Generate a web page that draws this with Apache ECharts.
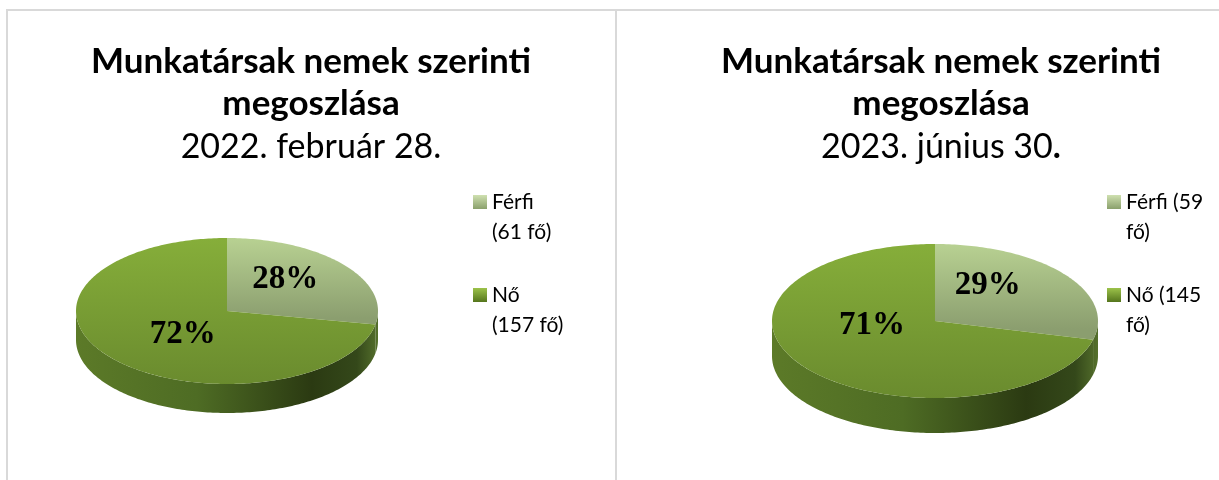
<!DOCTYPE html>
<html>
<head>
<meta charset="utf-8">
<script src="https://cdn.jsdelivr.net/npm/echarts@6/dist/echarts.min.js"></script>
<style>
  html, body { margin: 0; padding: 0; background: #fff; }
  #chart { width: 1219px; height: 480px; }
</style>
</head>
<body>
<div id="chart"></div>
<script>
// data
const categories = ['Férfi', 'Nő']
const titleText = 'Munkatársak nemek szerinti\nmegoszlása'
const dates = ['2022. február 28.', '2023. június 30{b|.}']
const values2022 = [61, 157]
const values2023 = [59, 145]

// legend labels (line breaks differ between the two charts, like the original)
const legend2022 = categories.map((c, i) => c + '\n(' + values2022[i] + ' fő)')
const legend2023 = categories.map((c, i) => c + ' (' + values2023[i] + '\nfő)')

// geometry of the two tilted pies, label spots given as [radius factor, y nudge]
const pies = [
  { values: values2022, names: legend2022, cx: 227, cy: 311, rx: 151, ry: 73, depth: 29, titleX: 311,
    labelPos: [[0.5, -8], [0.38, 6]] },
  { values: values2023, names: legend2023, cx: 935, cy: 321, rx: 163, ry: 77, depth: 35, titleX: 941,
    labelPos: [[0.41, -16], [0.49, -19]] }
]

const topColors = [
  ['#b8d192', '#8b9e6f'], // Férfi
  ['#86ae3a', '#6a8b2e']  // Nő
]
const iconColors = [
  ['#cfe0b0', '#8aa06c'],
  ['#9cc24a', '#55751d']
]

function grad(x, y, x2, y2, c0, c1, global) {
  return new echarts.graphic.LinearGradient(x, y, x2, y2, [
    { offset: 0, color: c0 },
    { offset: 1, color: c1 }
  ], global)
}

function arcPoints(p, a0, a1, dy) {
  const pts = []
  const n = Math.max(2, Math.ceil((a1 - a0) / (Math.PI / 180)))
  for (let k = 0; k <= n; k++) {
    const t = a0 + (a1 - a0) * k / n
    pts.push([p.cx + p.rx * Math.sin(t), p.cy - p.ry * Math.cos(t) + dy])
  }
  return pts
}

function makeRender(p, idx) {
  return function (params, api) {
    const total = p.values.reduce((s, v) => s + v, 0)
    let before = 0
    for (let i = 0; i < idx; i++) before += p.values[i]
    const v = api.value(0)
    const a0 = before / total * Math.PI * 2
    const a1 = (before + v) / total * Math.PI * 2
    const children = []

    // front wall, only the part facing the viewer
    const s = Math.max(a0, Math.PI / 2)
    const e = Math.min(a1, Math.PI * 1.5)
    if (e > s) {
      const upper = arcPoints(p, s, e, 0)
      const lower = arcPoints(p, s, e, p.depth).reverse()
      children.push({
        type: 'polygon',
        shape: { points: upper.concat(lower) },
        style: {
          fill: new echarts.graphic.LinearGradient(p.cx - p.rx, 0, p.cx + p.rx, 0, [
            { offset: 0, color: '#5c7a28' },
            { offset: 0.4, color: '#4e6c24' },
            { offset: 0.78, color: '#2b3a12' },
            { offset: 0.93, color: '#34481a' },
            { offset: 1, color: '#55702c' }
          ], true)
        }
      })
    }

    // top face
    const face = [[p.cx, p.cy]].concat(arcPoints(p, a0, a1, 0))
    children.push({
      type: 'polygon',
      shape: { points: face },
      style: {
        fill: grad(0, p.cy - p.ry, 0, p.cy + p.ry * (idx === 0 ? 0.1 : 1),
          topColors[idx][0], topColors[idx][1], true)
      }
    })

    // percent label
    const mid = (a0 + a1) / 2
    const lp = p.labelPos[idx]
    children.push({
      type: 'text',
      style: {
        text: Math.round(v / total * 100) + '%',
        x: p.cx + p.rx * lp[0] * Math.sin(mid),
        y: p.cy - p.ry * lp[0] * Math.cos(mid) + lp[1],
        align: 'center',
        verticalAlign: 'middle',
        font: 'bold 33px "Liberation Serif", serif',
        fill: '#000'
      }
    })
    return { type: 'group', children: children }
  }
}

const series = []
pies.forEach(p => {
  categories.forEach((c, i) => {
    series.push({
      type: 'custom',
      name: p.names[i],
      coordinateSystem: 'none',
      silent: true,
      animation: false,
      itemStyle: { color: grad(0, 0, 0, 1, iconColors[i][0], iconColors[i][1]) },
      data: [[p.values[i]]],
      renderItem: makeRender(p, i)
    })
  })
})

const legendBase = {
  orient: 'vertical',
  top: 157,
  padding: 0,
  itemGap: 3,
  icon: 'rect',
  itemWidth: 14,
  itemHeight: 14,
  selectedMode: false,
  // leading empty line keeps the marker beside the first text line
  formatter: name => '\n' + name,
  textStyle: {
    fontFamily: 'Lato',
    fontSize: 21,
    lineHeight: 30,
    color: '#000'
  }
}

const option = {
  backgroundColor: '#fff',
  title: pies.map((p, i) => ({
    text: titleText,
    subtext: dates[i],
    left: p.titleX,
    top: 41,
    padding: 0,
    itemGap: 4,
    textAlign: 'center',
    textStyle: { fontFamily: 'Lato', fontWeight: 'bold', fontSize: 35, lineHeight: 42, color: '#000' },
    subtextStyle: {
      fontFamily: 'Lato', fontSize: 34, lineHeight: 36, color: '#000',
      rich: { b: { fontFamily: 'Lato', fontSize: 34, fontWeight: 'bold', color: '#000' } }
    }
  })),
  legend: [
    Object.assign({}, legendBase, { left: 473, data: legend2022 }),
    Object.assign({}, legendBase, { left: 1107, data: legend2023 })
  ],
  graphic: [
    { type: 'rect', silent: true, z: -1, shape: { x: 7, y: 10, width: 609, height: 480 },
      style: { fill: 'none', stroke: '#d9d9d9', lineWidth: 2 } },
    { type: 'rect', silent: true, z: -1, shape: { x: 616, y: 10, width: 620, height: 480 },
      style: { fill: 'none', stroke: '#d9d9d9', lineWidth: 2 } }
  ],
  series: series
}

const myChart = echarts.init(document.getElementById('chart'))
myChart.setOption(option)
</script>
</body>
</html>
